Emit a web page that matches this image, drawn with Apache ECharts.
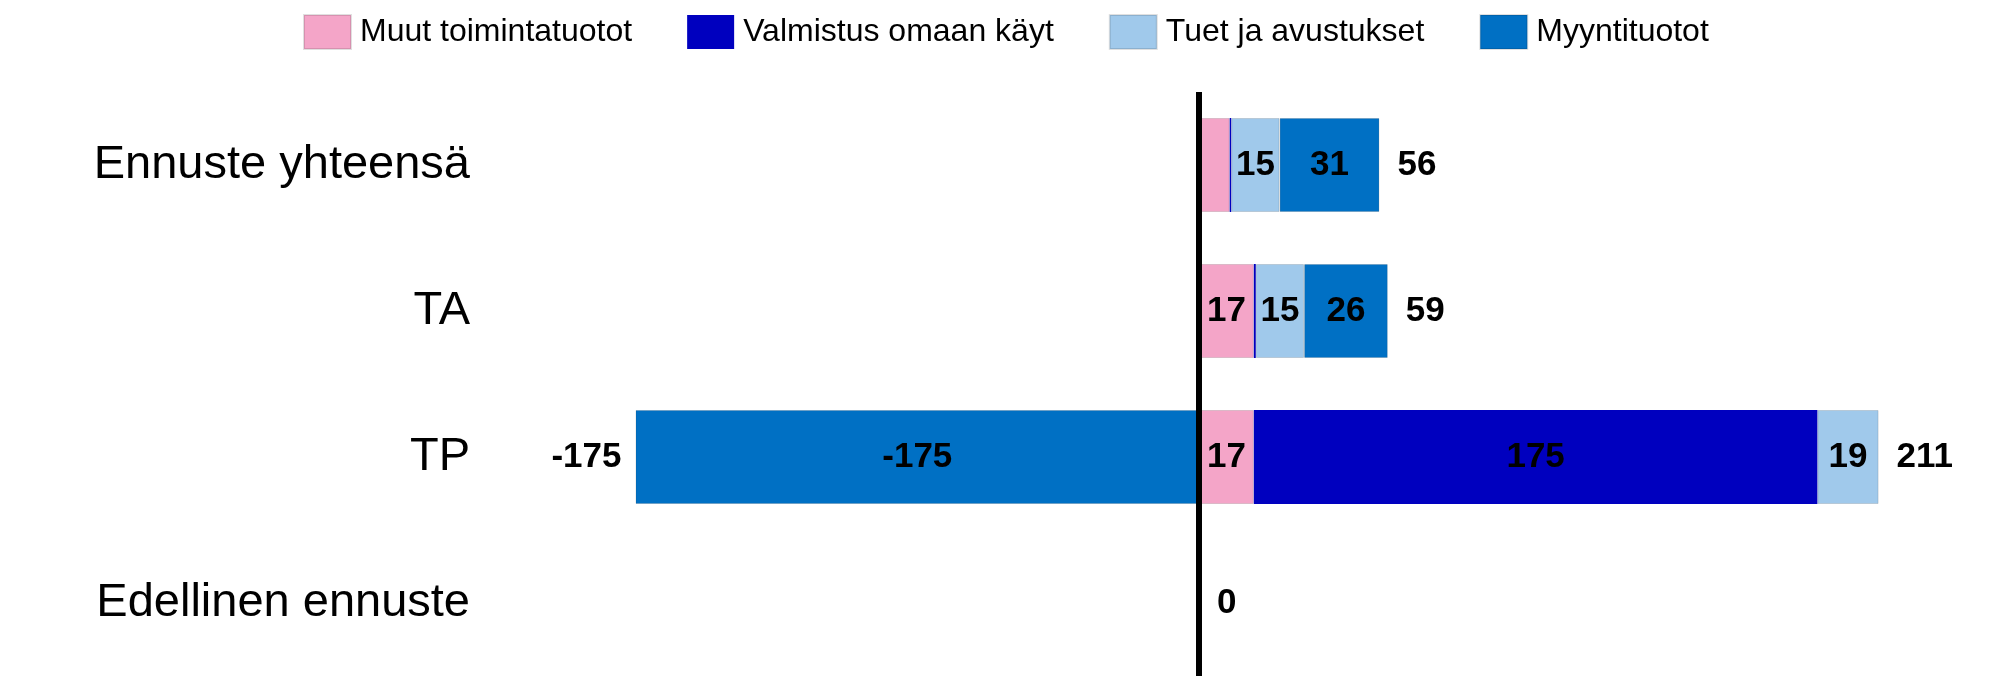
<!DOCTYPE html>
<html>
<head>
<meta charset="utf-8">
<script src="https://cdn.jsdelivr.net/npm/echarts@6/dist/echarts.min.js"></script>
<style>
  html, body { margin: 0; padding: 0; background: #fff; }
  #chart { width: 1999px; height: 678px; }
</style>
</head>
<body>
<div id="chart"></div>
<script>
const categories = ['Ennuste yhteensä', 'TA', 'TP', 'Edellinen ennuste']
const seriesNames = ['Muut toimintatuotot', 'Valmistus omaan käyt', 'Tuet ja avustukset', 'Myyntituotot']

const muutValues = [9.5, 17, 17, 0]
const valmistusValues = [0.5, 0.6, 175, 0]
const tuetValues = [15, 15, 19, 0]
const myyntiValues = [31, 26, -175, 0]

const palette = ['#F4A5C8', '#0000BF', '#A0C9EB', '#0070C4']
const font = '"Liberation Sans", Arial, sans-serif'

const valueSets = [muutValues, valmistusValues, tuetValues, myyntiValues]

// ends of the positive and negative stacks, used for the total labels
const posEnd = categories.map((_, i) => valueSets.reduce((s, v) => s + Math.max(0, v[i]), 0))
const negEnd = categories.map((_, i) => valueSets.reduce((s, v) => s + Math.min(0, v[i]), 0))

const valueText = { color: '#000', fontFamily: font, fontWeight: 'bold', fontSize: 35 }

const series = seriesNames.map((name, k) => ({
  name,
  type: 'bar',
  stack: 'total',
  barWidth: 94,
  data: valueSets[k],
  itemStyle: k === 1
    ? { color: palette[k] }
    : { color: palette[k], borderColor: 'rgba(0,0,0,0.12)', borderWidth: 1 },
  label: {
    show: true,
    position: 'inside',
    ...valueText,
    // small segments get no label
    formatter: (p) => (Math.abs(p.value) < 10 ? '' : String(Math.round(p.value))),
  },
}))

series.push({
  type: 'scatter',
  symbolSize: 0,
  itemStyle: { color: '#000', opacity: 1 },
  z: 10,
  data: categories.map((c, i) => [posEnd[i], c]),
  label: {
    show: true, position: 'right', distance: 18,
    ...valueText,
    formatter: (p) => String(Math.round(p.value[0])),
  },
  markLine: {
    silent: true,
    symbol: ['none', 'none'],
    label: { show: false },
    lineStyle: { color: '#000', width: 6, type: 'solid', opacity: 1 },
    data: [{ xAxis: 0 }],
  },
})

series.push({
  type: 'scatter',
  symbolSize: 0,
  itemStyle: { color: '#000', opacity: 1 },
  z: 10,
  data: categories.map((c, i) => [negEnd[i], c]),
  label: {
    show: true, position: 'left', distance: 14,
    ...valueText,
    formatter: (p) => (p.value[0] < 0 ? String(Math.round(p.value[0])) : ''),
  },
})

const chart = echarts.init(document.getElementById('chart'))
chart.setOption({
  animation: false,
  color: palette,
  legend: {
    data: seriesNames,
    icon: 'rect',
    top: 9,
    left: 298,
    itemWidth: 47,
    itemHeight: 34,
    itemGap: 55,
    textStyle: { fontFamily: font, fontSize: 32, color: '#000', padding: [0, 0, 0, 4] },
  },
  grid: { left: 555, right: 27, top: 92, bottom: 2 },
  xAxis: { type: 'value', min: -200, max: 240, show: false },
  yAxis: {
    type: 'category',
    data: categories,
    inverse: true,
    axisLine: { show: false },
    axisTick: { show: false },
    splitLine: { show: false },
    axisLabel: { margin: 85, color: '#000', fontFamily: font, fontSize: 47, padding: [12, 0, 0, 0] },
  },
  series,
})
</script>
</body>
</html>
